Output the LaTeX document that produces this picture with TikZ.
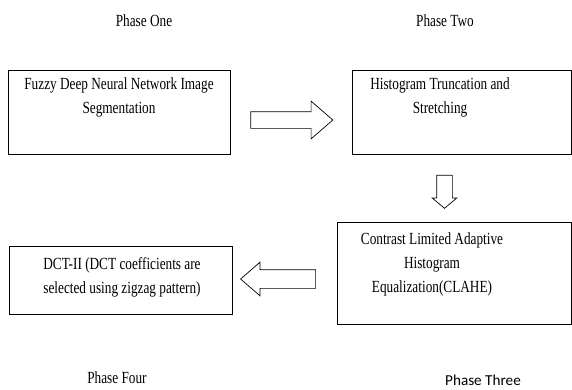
\documentclass[tikz,border=0pt]{standalone}
\usepackage{fontspec}
\setmainfont{Liberation Serif}[FakeStretch=0.78]
\newfontfamily\calibrifont{Carlito}
\usetikzlibrary{shapes.arrows}

\begin{document}
\begin{tikzpicture}[x=1pt, y=-1pt,
  phasebox/.style={draw=black, line width=0.8pt, inner sep=0pt},
  phasetext/.style={align=center, inner sep=0pt, font=\fontsize{17}{24}\selectfont},
  blockarrow/.style={single arrow, draw=black, line width=0.7pt, minimum width=0pt}]
\useasboundingbox (0,0) rectangle (572,389);

% phase headings
\node[phasetext](one) at (144,21) {Phase One};
\node[phasetext](two) at (445,21) {Phase Two};
\node[phasetext](four) at (117,378) {Phase Four};
\node[inner sep=0pt, font=\calibrifont\fontsize{15.2}{18}\selectfont](three) at (483,380) {Phase Three};

% boxes
\node[phasebox, minimum width=222pt, minimum height=84pt](fuzzy) at (119,112) {};
\node[phasebox, minimum width=219pt, minimum height=84pt](trunc) at (461.5,112) {};
\node[phasebox, minimum width=234pt, minimum height=102pt](clahe) at (454,273) {};
\node[phasebox, minimum width=223pt, minimum height=68pt](dct) at (120.5,280) {};

\node[phasetext](fuzzytxt) at (119,97) {Fuzzy Deep Neural Network Image\\Segmentation};
\node[phasetext](trunctxt) at (440,97) {Histogram Truncation and\\Stretching};
\node[phasetext](clahetxt) at (432,264) {Contrast Limited Adaptive\\Histogram\\Equalization(CLAHE)};
\node[phasetext](dcttxt) at (122,277) {DCT-II (DCT coefficients are\\selected using zigzag pattern)};

% block arrows between the phases
\node[blockarrow, inner sep=8pt, single arrow head extend=10.5pt, single arrow tip angle=82,
  minimum height=82pt](a12) at (287,120) {};
\node[blockarrow, inner sep=7.5pt, single arrow head extend=4.5pt, single arrow tip angle=100,
  minimum height=33pt, shape border rotate=270](a23) at (444.5,188.5) {};
\node[blockarrow, inner sep=9pt, single arrow head extend=7.5pt, single arrow tip angle=82,
  minimum height=75pt, shape border rotate=180](a34) at (283.5,279) {};
\end{tikzpicture}
\end{document}
